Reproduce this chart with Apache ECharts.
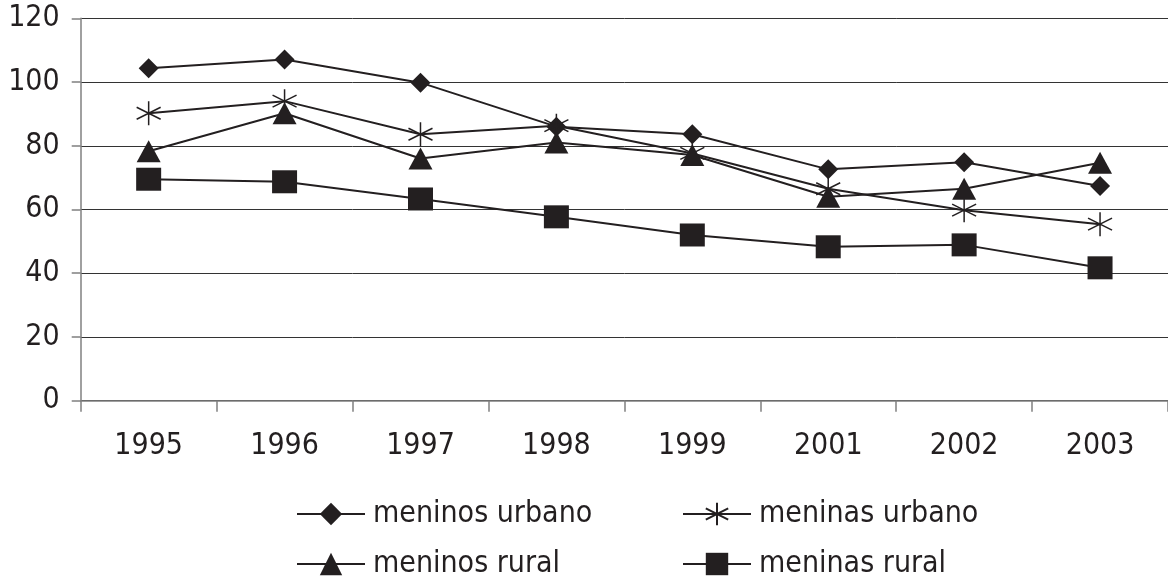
<!DOCTYPE html>
<html><head><meta charset="utf-8">
<script src="https://cdn.jsdelivr.net/npm/echarts@6/dist/echarts.min.js"></script>
<style>html,body{margin:0;padding:0;background:#fff}#c{width:1168px;height:580px}</style>
</head><body><div id="c"></div>
<script>
const categories = ['1995','1996','1997','1998','1999','2001','2002','2003'];
const meninosUrbano = [104.3, 107.1, 99.8, 86.0, 83.6, 72.6, 74.8, 67.4];
const meninasUrbano = [90.2, 94.0, 83.6, 86.3, 77.6, 66.5, 59.8, 55.4];
const meninosRural  = [78.3, 90.2, 76.0, 81.0, 77.1, 64.0, 66.5, 74.7];
const meninasRural  = [69.5, 68.7, 63.3, 57.7, 52.0, 48.3, 48.9, 41.7];
const seriesNames = ['meninos urbano','meninas urbano','meninos rural','meninas rural'];
const yTicks = {min:0, max:120, interval:20};

const FONT = '"DejaVu Sans Condensed", "DejaVu Sans", sans-serif';
const INK = '#231f20';
const asterisk = 'path://M0,-10 L0,10 M-8.66,-5 L8.66,5 M-8.66,5 L8.66,-5';

function mk(name, data, symbol, size, extra) {
  return Object.assign({
    name, type:'line', data, symbol, symbolSize:size,
    lineStyle:{color:INK, width:2},
    itemStyle:{color:INK},
    showAllSymbol:true, animation:false, z:2
  }, extra||{});
}

const chart = echarts.init(document.getElementById('c'));
const legendBase = {
  orient:'horizontal', itemWidth:68, itemHeight:28, itemGap:0,
  textStyle:{fontFamily:FONT, fontSize:30, color:INK, padding:[0,0,0,3]},
  padding:0, selectedMode:false
};
chart.setOption({
  backgroundColor:'#fff',
  animation:false,
  grid:{left:80.7, top:18.3, width:1093.6, height:382.4},
  xAxis:{
    type:'category', data:categories, boundaryGap:true,
    axisLine:{lineStyle:{color:'#808080', width:1.5}},
    axisTick:{show:true, length:11, lineStyle:{color:'#808080', width:1.5}},
    axisLabel:{fontFamily:FONT, fontSize:30, color:INK, margin:31}
  },
  yAxis:{
    type:'value', min:yTicks.min, max:yTicks.max, interval:yTicks.interval,
    axisLine:{show:true, lineStyle:{color:'#808080', width:1.5}},
    axisTick:{show:true, length:9, lineStyle:{color:'#808080', width:1.5}},
    axisLabel:{fontFamily:FONT, fontSize:30, color:INK, margin:21},
    splitLine:{show:true, lineStyle:{color:'#333', width:1}}
  },
  legend:[
    Object.assign({}, legendBase, {data:[seriesNames[0]], left:296, top:499}),
    Object.assign({}, legendBase, {data:[seriesNames[1]], left:682, top:499}),
    Object.assign({}, legendBase, {data:[seriesNames[2]], left:296, top:549}),
    Object.assign({}, legendBase, {data:[seriesNames[3]], left:682, top:549})
  ],
  series:[
    mk(seriesNames[0], meninosUrbano, 'diamond', [20,20]),
    mk(seriesNames[1], meninasUrbano, asterisk, [24,24], {itemStyle:{color:'none', borderColor:INK, borderWidth:1.5}}),
    mk(seriesNames[2], meninosRural, 'triangle', [24,22]),
    mk(seriesNames[3], meninasRural, 'rect', [25,23])
  ]
});
</script></body></html>
